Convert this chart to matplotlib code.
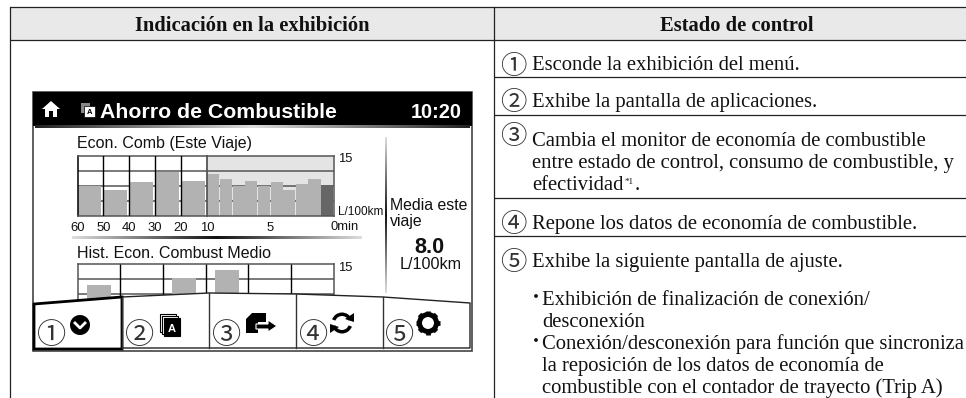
import numpy as np
import matplotlib
matplotlib.use("Agg")
import matplotlib.pyplot as plt
from matplotlib.patches import Rectangle, Circle, Polygon, Wedge
from matplotlib.colors import LinearSegmentedColormap

# values
trip_wide_min = [55, 45, 35, 25, 15]
trip_wide = [7.6, 6.5, 8.5, 11.1, 8.75]
trip_narrow_min = [9.5, 8.5, 7.5, 6.5, 5.5, 4.5, 3.5, 2.5, 1.5, 0.5]
trip_narrow = [10.5, 9.25, 7.6, 8.75, 7.6, 8.5, 6.5, 8, 9.25, 7.75]
wide_ticks = [60, 50, 40, 30, 20, 10]
hist_pos = [0, 2, 3]
hist_vals = [9.75, 11.5, 13.4]
grid_vals = [3.75, 7.5, 11.25]

headers = ["Indicación en la exhibición", "Estado de control"]
row_text = [
    ("Esconde la exhibición del menú.", 532, 69.5),
    ("Exhibe la pantalla de aplicaciones.", 532, 107.5),
    ("Cambia el monitor de economía de combustible", 532, 146),
    ("entre estado de control, consumo de combustible, y", 532, 168),
    ("Repone los datos de economía de combustible.", 532, 229.5),
    ("Exhibe la siguiente pantalla de ajuste.", 532, 267.5),
    ("Exhibición de finalización de conexión/", 542, 305),
    ("desconexión", 542, 327),
    ("Conexión/desconexión para función que sincroniza", 542, 349),
    ("la reposición de los datos de economía de", 542, 371),
    ("combustible con el contador de trayecto (Trip A)", 542, 393),
]
nums = ["①", "②", "③", "④", "⑤"]
row_num_y = [66, 102, 136, 224, 262]
menu_num_x = [52, 140, 227, 314, 400]
menu_top = [(34, 304), (122, 297), (209, 293), (296, 294), (383, 297), (470, 303)]

SERIF = "Liberation Serif"
SANS = "Liberation Sans"
CJK = "Noto Sans CJK JP"
BAR = "#b2b2b2"
LINE = "#222222"
BODY = 14.9

W, H = 966, 398
fig = plt.figure(figsize=(W / 100, H / 100), dpi=100, facecolor="white")


def px_axes(x0, y0, x1, y1, z):
    a = fig.add_axes([x0 / W, 1 - y1 / H, (x1 - x0) / W, (y1 - y0) / H], zorder=z)
    return a


back = px_axes(0, 0, W, H, 0)
back.set_xlim(0, W)
back.set_ylim(H, 0)
back.axis("off")

top = px_axes(0, 0, W, H, 5)
top.set_xlim(0, W)
top.set_ylim(H, 0)
top.axis("off")
top.patch.set_alpha(0)

# table
back.add_patch(Rectangle((10, 7), W - 10, 32.5, fc="#e9e9e9", ec="none"))
for y in [7, 39.5, 77, 115, 198, 236]:
    x0 = 10 if y < 40 else 494
    back.plot([x0, W], [y, y], color=LINE, lw=0.9, solid_capstyle="butt")
back.plot([10, 10], [7, H], color=LINE, lw=0.9)
back.plot([494, 494], [7, H], color=LINE, lw=0.9)
back.text(252, 31, headers[0], family=SERIF, weight="bold", fontsize=14.8, ha="center", va="baseline", color="#111111")
back.text(737, 31, headers[1], family=SERIF, weight="bold", fontsize=14.8, ha="center", va="baseline", color="#111111")

for txt, x, y in row_text:
    back.text(x, y, txt, family=SERIF, fontsize=BODY, va="baseline", color="#111111")
back.text(532, 190, "efectividad", family=SERIF, fontsize=BODY, va="baseline", color="#111111")
back.text(625, 184, "*1", family=SERIF, fontsize=6.5, va="baseline", color="#111111")
back.text(635, 190, ".", family=SERIF, fontsize=BODY, va="baseline", color="#111111")
for y in [296, 340]:
    back.add_patch(Circle((536, y), 1.9, fc="#111111", ec="none"))
for n, y in zip(nums, row_num_y):
    back.text(513, y, n, family=CJK, fontsize=19, ha="center", va="center", color="#333333")

# screen frame
back.add_patch(Rectangle((33, 92), 439, 259, fc="white", ec="#444444", lw=1.2))
back.add_patch(Rectangle((33, 92), 439, 34, fc="black", ec="none"))

gray_edges = LinearSegmentedColormap.from_list("e", ["#222222", "#dddddd", "#222222"])
edge_center = LinearSegmentedColormap.from_list("c", ["#dddddd", "#111111", "#dddddd"])
ramp = np.linspace(0, 1, 200)
back.imshow(ramp[None, :], extent=(35, 470, 128, 125.5), cmap=gray_edges, aspect="auto", zorder=3)
back.imshow(ramp[None, :], extent=(72, 362, 239, 236), cmap=edge_center, aspect="auto", zorder=3)
back.imshow(ramp[:, None], extent=(385.2, 386.8, 293, 137), cmap=edge_center, aspect="auto", zorder=3)
back.set_xlim(0, W)
back.set_ylim(H, 0)

# header of screen
back.text(100, 118, "Ahorro de Combustible", family=SANS, weight="bold", fontsize=15.3, color="white", va="baseline", zorder=4)
back.text(462, 118, "10:20", family=SANS, weight="bold", fontsize=14.3, color="white", ha="right", va="baseline", zorder=4)
back.add_patch(Polygon([(42, 109), (51, 101), (60, 109), (57, 109), (57, 117), (45, 117), (45, 109)], fc="white", ec="none", zorder=4))
back.add_patch(Rectangle((49, 111), 4, 6, fc="black", ec="none", zorder=5))
back.add_patch(Rectangle((81, 103), 9, 10, fc="#888888", ec="none", zorder=4))
back.add_patch(Rectangle((84, 106), 11, 11, fc="white", ec="black", lw=0.5, zorder=5))
back.text(89.5, 114.5, "A", family=SANS, weight="bold", fontsize=5.5, ha="center", va="baseline", color="black", zorder=6)

# screen texts
back.text(77, 148, "Econ. Comb (Este Viaje)", family=SANS, fontsize=11.5, va="baseline", color="#111111")
back.text(77, 258, "Hist. Econ. Combust Medio", family=SANS, fontsize=11.5, va="baseline", color="#111111")
back.text(338, 215, "L/100km", family=SANS, fontsize=8.5, va="baseline", color="#111111")
back.text(344.5, 230, "0min", family=SANS, fontsize=9.4, ha="center", va="baseline", color="#111111")
back.text(390, 210, "Media este", family=SANS, fontsize=11.4, va="baseline", color="#111111")
back.text(390, 226, "viaje", family=SANS, fontsize=11.4, va="baseline", color="#111111")
back.text(429, 253, "8.0", family=SANS, weight="bold", fontsize=15.6, ha="center", va="baseline", color="#111111")
back.text(431, 269, "L/100km", family=SANS, fontsize=11.6, ha="center", va="baseline", color="#111111")


def style(a):
    a.set_ylim(0, 15)
    a.set_yticks(grid_vals)
    a.tick_params(axis="y", length=0, labelleft=False)
    a.tick_params(axis="x", length=0, labelsize=9.4, pad=4, labelcolor="#111111")
    a.grid(axis="y", color="#555555", lw=1.1)
    a.set_axisbelow(True)
    for s in a.spines.values():
        s.set_color("#555555")
        s.set_linewidth(1.1)


# chart 1, two time scales
ax1 = px_axes(77.5, 156, 207, 216, 1)
style(ax1)
ax1.set_xlim(60, 10)
ax1.bar(np.array(trip_wide_min) + 0.4, trip_wide, width=9.2, color=BAR, zorder=2)
for m in wide_ticks[1:-1]:
    ax1.axvline(m, color="black", lw=1, zorder=3)
ax1.spines["right"].set_visible(False)
ax1.spines["left"].set_color("black")
ax1.set_xticks(wide_ticks)
ax1.set_xticklabels([str(v) for v in wide_ticks], family=SANS)

ax2 = px_axes(207, 156, 333.5, 216, 1)
style(ax2)
ax2.set_facecolor("#e4e4e4")
ax2.set_xlim(10, 0)
cols = [BAR] * 9 + ["#666666"]
ax2.bar(trip_narrow_min, trip_narrow, width=0.96, color=cols, zorder=2)
ax2.spines["left"].set_linewidth(1.3)
ax2.set_xticks([5])
ax2.set_xticklabels(["5"], family=SANS)
back.text(338, 162, "15", family=SANS, fontsize=9.4, va="baseline", color="#111111")

# chart 2
ax3 = px_axes(77.5, 264, 334, 324, 1)
style(ax3)
ax3.set_xlim(0, 6)
ax3.bar(np.array(hist_pos) + 0.5, hist_vals, width=0.56, color=BAR, zorder=2)
for c in range(1, 6):
    ax3.axvline(c, color="black", lw=1, zorder=1)
ax3.set_xticks([])
back.text(338, 271, "15", family=SANS, fontsize=9.4, va="baseline", color="#111111")

# menu on top of chart 2
menu_pts = menu_top + [(470, 348), (34, 348)]
top.add_patch(Polygon(menu_pts, fc="white", ec="#222222", lw=1.0))
for (x, y) in menu_top[1:-1]:
    top.plot([x, x], [y, 348], color="#333333", lw=1.0)
top.add_patch(Polygon([(34, 304), (122, 297), (122, 349), (34, 349)], fc="white", ec="black", lw=2.0))
for n, x in zip(nums, menu_num_x):
    top.text(x, 335.5, n, family=CJK, fontsize=21, ha="center", va="center", color="#333333")

# menu icons
top.add_patch(Circle((80, 325), 10, fc="black", ec="none"))
top.plot([75, 80, 85], [323, 328, 323], color="white", lw=2)
for off in [0, 2, 4]:
    top.add_patch(Rectangle((160 + off, 314 + off), 16, 18, fc="white" if off < 4 else "black", ec="black", lw=0.8))
top.text(172, 332, "A", family=SANS, weight="bold", fontsize=8, color="white", ha="center", va="baseline")
top.add_patch(Polygon([(246, 319), (252, 313), (266, 313), (266, 322), (258, 322), (258, 333), (246, 333)], fc="black", ec="none"))
top.add_patch(Polygon([(256, 324), (268, 324), (268, 320), (277, 326), (268, 332), (268, 329), (256, 329)], fc="black", ec="white", lw=0.8))
top.add_patch(Wedge((342, 323), 10.5, 20, 160, width=3.5, fc="black", ec="none"))
top.add_patch(Wedge((342, 323), 10.5, 200, 340, width=3.5, fc="black", ec="none"))
top.add_patch(Polygon([(345, 319), (354, 313), (354, 322)], fc="black", ec="none"))
top.add_patch(Polygon([(339, 327), (330, 333), (330, 324)], fc="black", ec="none"))
top.add_patch(Circle((428, 323), 8.5, fc="none", ec="black", lw=3.6))
for ang in np.deg2rad(np.arange(0, 360, 45)):
    top.plot([428 + 9 * np.cos(ang), 428 + 12 * np.cos(ang)], [323 + 9 * np.sin(ang), 323 + 12 * np.sin(ang)], color="black", lw=3.4, solid_capstyle="butt")

fig.savefig("out.png", dpi=100)
